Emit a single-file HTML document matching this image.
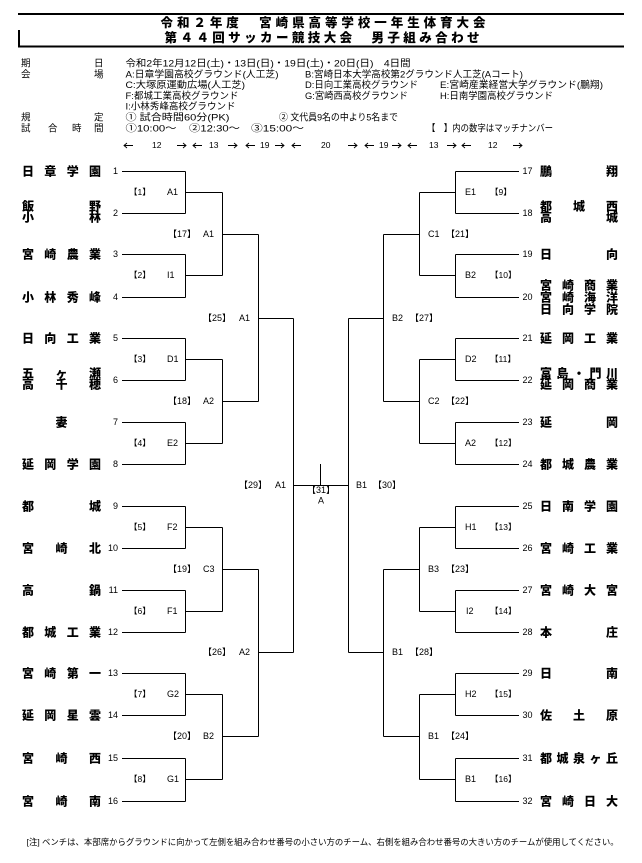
<!DOCTYPE html>
<html><head><meta charset="utf-8">
<style>
html,body{margin:0;padding:0;background:#fff;}
svg{display:block;}
text{font-family:"Liberation Sans","Noto Sans CJK JP",sans-serif;fill:#000;}
.t{font-family:"Noto Sans CJK JP",sans-serif;font-size:12.5px;font-weight:900;}
.n{font-family:"Noto Sans CJK JP",sans-serif;font-size:12px;font-weight:900;}
.num{font-size:9px;fill:#111;}
.lb{font-size:9px;fill:#1a1a1a;}
.lb1{font-size:8.5px;fill:#1a1a1a;}
.i{font-size:9.5px;}
.ad{font-family:"Liberation Sans",sans-serif;font-size:8.5px;}
.f{font-size:8.4px;}
</style></head>
<body>
<svg width="642" height="863" viewBox="0 0 642 863" xmlns="http://www.w3.org/2000/svg">
<!-- header box -->
<rect x="18" y="13" width="606" height="2" fill="#000"/>
<rect x="18" y="45.5" width="606" height="2" fill="#000"/>
<rect x="18" y="30" width="2" height="17" fill="#000"/>
<text class="t" x="160.5" y="27" textLength="325" lengthAdjust="spacing">令和２年度　宮崎県高等学校一年生体育大会</text>
<text class="t" x="164.5" y="42" textLength="315" lengthAdjust="spacing">第４４回サッカー競技大会　男子組み合わせ</text>

<!-- info -->
<g class="i">
<text x="21" y="66.5">期</text><text x="94" y="66.5">日</text>
<text x="125.5" y="66.5" textLength="285" lengthAdjust="spacingAndGlyphs">令和2年12月12日(土)・13日(日)・19日(土)・20日(日)　4日間</text>
<text x="21" y="77.5">会</text><text x="94" y="77.5">場</text>
<text x="125.5" y="77.5" textLength="153" lengthAdjust="spacingAndGlyphs">A:日章学園高校グラウンド(人工芝)</text>
<text x="305" y="77.5" textLength="218" lengthAdjust="spacingAndGlyphs">B:宮崎日本大学高校第2グラウンド人工芝(Aコート)</text>
<text x="125.5" y="88" textLength="119.5" lengthAdjust="spacingAndGlyphs">C:大塚原運動広場(人工芝)</text>
<text x="305" y="88" textLength="113" lengthAdjust="spacingAndGlyphs">D:日向工業高校グラウンド</text>
<text x="440" y="88" textLength="163" lengthAdjust="spacingAndGlyphs">E:宮崎産業経営大学グラウンド(鵬翔)</text>
<text x="125.5" y="99" textLength="113" lengthAdjust="spacingAndGlyphs">F:都城工業高校グラウンド</text>
<text x="305" y="99" textLength="103" lengthAdjust="spacingAndGlyphs">G:宮崎西高校グラウンド</text>
<text x="440" y="99" textLength="113" lengthAdjust="spacingAndGlyphs">H:日南学園高校グラウンド</text>
<text x="125.5" y="109.5" textLength="110" lengthAdjust="spacingAndGlyphs">I:小林秀峰高校グラウンド</text>
<text x="21" y="120.5">規</text><text x="94" y="120.5">定</text>
<text x="125.5" y="120.5" textLength="104" lengthAdjust="spacingAndGlyphs">① 試合時間60分(PK)</text>
<text x="279" y="120.5" textLength="119" lengthAdjust="spacingAndGlyphs">② 文代員9名の中より5名まで</text>
<text x="21" y="131.5">試</text><text x="48" y="131.5">合</text><text x="72" y="131.5">時</text><text x="94" y="131.5">間</text>
<text x="125.5" y="131.5" textLength="51" lengthAdjust="spacingAndGlyphs">①10:00～</text>
<text x="189" y="131.5" textLength="51" lengthAdjust="spacingAndGlyphs">②12:30～</text>
<text x="251" y="131.5" textLength="53" lengthAdjust="spacingAndGlyphs">③15:00～</text>
<text x="427" y="131.5" textLength="126" lengthAdjust="spacingAndGlyphs">【　】内の数字はマッチナンバー</text>
</g>

<!-- arrows row (drawn) -->
<path fill="none" stroke="#000" stroke-width="0.9" d="
M124 145.5H133 M127 143L124 145.5L127 148
M193 145.5H202 M196 143L193 145.5L196 148
M246 145.5H255 M249 143L246 145.5L249 148
M292 145.5H301 M295 143L292 145.5L295 148
M365 145.5H374 M368 143L365 145.5L368 148
M408 145.5H417 M411 143L408 145.5L411 148
M462 145.5H471 M465 143L462 145.5L465 148
M177 145.5H186 M183 143L186 145.5L183 148
M228 145.5H237 M234 143L237 145.5L234 148
M275 145.5H284 M281 143L284 145.5L281 148
M348 145.5H357 M354 143L357 145.5L354 148
M392 145.5H401 M398 143L401 145.5L398 148
M447 145.5H456 M453 143L456 145.5L453 148
M513 145.5H522 M519 143L522 145.5L519 148
"/>
<g class="ad">
<text x="152" y="148">12</text><text x="209" y="148">13</text><text x="260" y="148">19</text>
<text x="321" y="148">20</text><text x="379" y="148">19</text><text x="429" y="148">13</text><text x="488" y="148">12</text>
</g>

<!-- bracket lines -->
<path fill="none" stroke="#000" stroke-width="1" d="
M122 171.5H185.5 M122 213.5H185.5 M122 254.5H185.5 M122 297.5H185.5 M122 338.5H185.5 M122 380.5H185.5 M122 422.5H185.5 M122 464.5H185.5
M122 506.5H185.5 M122 548.5H185.5 M122 590.5H185.5 M122 632.5H185.5 M122 673.5H185.5 M122 715.5H185.5 M122 758.5H185.5 M122 801.5H185.5
M185.5 171.5V213.5 M185.5 254.5V297.5 M185.5 338.5V380.5 M185.5 422.5V464.5 M185.5 506.5V548.5 M185.5 590.5V632.5 M185.5 673.5V715.5 M185.5 758.5V801.5
M185.5 192.5H222.5 M185.5 275.5H222.5 M185.5 359.5H222.5 M185.5 443.5H222.5 M185.5 527.5H222.5 M185.5 611.5H222.5 M185.5 694.5H222.5 M185.5 779.5H222.5
M222.5 192.5V275.5 M222.5 359.5V443.5 M222.5 527.5V611.5 M222.5 694.5V779.5
M222.5 234.5H258.5 M222.5 401.5H258.5 M222.5 569.5H258.5 M222.5 736.5H258.5
M258.5 234.5V401.5 M258.5 569.5V736.5
M258.5 318.5H293.5 M258.5 652.5H293.5
M293.5 318.5V652.5
M293.5 485.5H348.5 M320.5 464V485.5
M455.5 171.5H519 M455.5 213.5H519 M455.5 254.5H519 M455.5 297.5H519 M455.5 338.5H519 M455.5 380.5H519 M455.5 422.5H519 M455.5 464.5H519
M455.5 506.5H519 M455.5 548.5H519 M455.5 590.5H519 M455.5 632.5H519 M455.5 673.5H519 M455.5 715.5H519 M455.5 758.5H519 M455.5 801.5H519
M455.5 171.5V213.5 M455.5 254.5V297.5 M455.5 338.5V380.5 M455.5 422.5V464.5 M455.5 506.5V548.5 M455.5 590.5V632.5 M455.5 673.5V715.5 M455.5 758.5V801.5
M455.5 192.5H419.5 M455.5 275.5H419.5 M455.5 359.5H419.5 M455.5 443.5H419.5 M455.5 527.5H419.5 M455.5 611.5H419.5 M455.5 694.5H419.5 M455.5 779.5H419.5
M419.5 192.5V275.5 M419.5 359.5V443.5 M419.5 527.5V611.5 M419.5 694.5V779.5
M419.5 234.5H383.5 M419.5 401.5H383.5 M419.5 569.5H383.5 M419.5 736.5H383.5
M383.5 234.5V401.5 M383.5 569.5V736.5
M383.5 318.5H348.5 M383.5 652.5H348.5
M348.5 318.5V652.5
"/>

<!-- left team names -->
<g class="n">
<text x="22 44.3 66.7 89" y="175.3">日章学園</text>
<text x="22 89" y="210.3">飯野</text>
<text x="22 89" y="221.3">小林</text>
<text x="22 44.3 66.7 89" y="258.3">宮崎農業</text>
<text x="22 44.3 66.7 89" y="301.3">小林秀峰</text>
<text x="22 44.3 66.7 89" y="342.3">日向工業</text>
<text x="22 55.5 89" y="377.3">五ヶ瀬</text>
<text x="22 55.5 89" y="388.3">高千穂</text>
<text x="55.5" y="426.3">妻</text>
<text x="22 44.3 66.7 89" y="468.3">延岡学園</text>
<text x="22 89" y="510.3">都城</text>
<text x="22 55.5 89" y="552.3">宮崎北</text>
<text x="22 89" y="594.3">高鍋</text>
<text x="22 44.3 66.7 89" y="636.3">都城工業</text>
<text x="22 44.3 66.7 89" y="677.3">宮崎第一</text>
<text x="22 44.3 66.7 89" y="719.3">延岡星雲</text>
<text x="22 55.5 89" y="762.3">宮崎西</text>
<text x="22 55.5 89" y="805.3">宮崎南</text>
</g>

<!-- right team names -->
<g class="n">
<text x="540 606" y="175.3">鵬翔</text>
<text x="540 573 606" y="210.3">都城西</text>
<text x="540 606" y="221.3">高城</text>
<text x="540 606" y="258.3">日向</text>
<text x="540 562 584 606" y="289.3">宮崎商業</text>
<text x="540 562 584 606" y="301.3">宮崎海洋</text>
<text x="540 562 584 606" y="313.3">日向学院</text>
<text x="540 562 584 606" y="342.3">延岡工業</text>
<text x="540 556.5 573 589.5 606" y="377.3">富島・門川</text>
<text x="540 562 584 606" y="388.3">延岡商業</text>
<text x="540 606" y="426.3">延岡</text>
<text x="540 562 584 606" y="468.3">都城農業</text>
<text x="540 562 584 606" y="510.3">日南学園</text>
<text x="540 562 584 606" y="552.3">宮崎工業</text>
<text x="540 562 584 606" y="594.3">宮崎大宮</text>
<text x="540 606" y="636.3">本庄</text>
<text x="540 606" y="677.3">日南</text>
<text x="540 573 606" y="719.3">佐土原</text>
<text x="540 556.5 573 589.5 606" y="762.3">都城泉ヶ丘</text>
<text x="540 562 584 606" y="805.3">宮崎日大</text>
</g>

<!-- left numbers -->
<g class="num" text-anchor="end">
<text x="118" y="174.2">1</text><text x="118" y="216.2">2</text><text x="118" y="257.2">3</text><text x="118" y="300.2">4</text>
<text x="118" y="341.2">5</text><text x="118" y="383.2">6</text><text x="118" y="425.2">7</text><text x="118" y="467.2">8</text>
<text x="118" y="509.2">9</text><text x="118" y="551.2">10</text><text x="118" y="593.2">11</text><text x="118" y="635.2">12</text>
<text x="118" y="676.2">13</text><text x="118" y="718.2">14</text><text x="118" y="761.2">15</text><text x="118" y="804.2">16</text>
</g>
<!-- right numbers -->
<g class="num">
<text x="522.5" y="174.2">17</text><text x="522.5" y="216.2">18</text><text x="522.5" y="257.2">19</text><text x="522.5" y="300.2">20</text>
<text x="522.5" y="341.2">21</text><text x="522.5" y="383.2">22</text><text x="522.5" y="425.2">23</text><text x="522.5" y="467.2">24</text>
<text x="522.5" y="509.2">25</text><text x="522.5" y="551.2">26</text><text x="522.5" y="593.2">27</text><text x="522.5" y="635.2">28</text>
<text x="522.5" y="676.2">29</text><text x="522.5" y="718.2">30</text><text x="522.5" y="761.2">31</text><text x="522.5" y="804.2">32</text>
</g>

<!-- left match labels -->
<g class="lb1">
<text x="129" y="195.2">【1】</text><text x="129" y="278.2">【2】</text><text x="129" y="362.2">【3】</text><text x="129" y="446.2">【4】</text>
<text x="129" y="530.2">【5】</text><text x="129" y="614.2">【6】</text><text x="129" y="697.2">【7】</text><text x="129" y="782.2">【8】</text>
</g>
<g class="lb">
<text x="167" y="195.2">A1</text><text x="167" y="278.2">I1</text><text x="167" y="362.2">D1</text><text x="167" y="446.2">E2</text>
<text x="167" y="530.2">F2</text><text x="167" y="614.2">F1</text><text x="167" y="697.2">G2</text><text x="167" y="782.2">G1</text>
<text x="168" y="237.2">【17】</text><text x="203" y="237.2">A1</text>
<text x="168" y="404.2">【18】</text><text x="203" y="404.2">A2</text>
<text x="168" y="572.2">【19】</text><text x="203" y="572.2">C3</text>
<text x="168" y="739.2">【20】</text><text x="203" y="739.2">B2</text>
<text x="203" y="321.2">【25】</text><text x="239" y="321.2">A1</text>
<text x="203" y="655.2">【26】</text><text x="239" y="655.2">A2</text>
<text x="239" y="488.2">【29】</text><text x="275" y="488.2">A1</text>
<text x="321" y="493" text-anchor="middle">【31】</text>
<text x="321" y="503.5" text-anchor="middle">A</text>
<text x="356" y="488.2">B1</text><text x="373" y="488.2">【30】</text>
<text x="392" y="321.2">B2</text><text x="410" y="321.2">【27】</text>
<text x="392" y="655.2">B1</text><text x="410" y="655.2">【28】</text>
<text x="428" y="237.2">C1</text><text x="446" y="237.2">【21】</text>
<text x="428" y="404.2">C2</text><text x="446" y="404.2">【22】</text>
<text x="428" y="572.2">B3</text><text x="446" y="572.2">【23】</text>
<text x="428" y="739.2">B1</text><text x="446" y="739.2">【24】</text>
<text x="465" y="195.2">E1</text><text x="465" y="278.2">B2</text><text x="465" y="362.2">D2</text><text x="465" y="446.2">A2</text>
<text x="465" y="530.2">H1</text><text x="466" y="614.2">I2</text><text x="465" y="697.2">H2</text><text x="465" y="782.2">B1</text>
</g>
<g class="lb1">
<text x="490" y="195.2">【9】</text><text x="490" y="278.2">【10】</text><text x="490" y="362.2">【11】</text><text x="490" y="446.2">【12】</text>
<text x="490" y="530.2">【13】</text><text x="490" y="614.2">【14】</text><text x="490" y="697.2">【15】</text><text x="490" y="782.2">【16】</text>
</g>

<!-- footer -->
<text class="f" x="26.7" y="845" textLength="592" lengthAdjust="spacingAndGlyphs">[注]  ベンチは、本部席からグラウンドに向かって左側を組み合わせ番号の小さい方のチーム、右側を組み合わせ番号の大きい方のチームが使用してください。</text>
</svg>
</body></html>
